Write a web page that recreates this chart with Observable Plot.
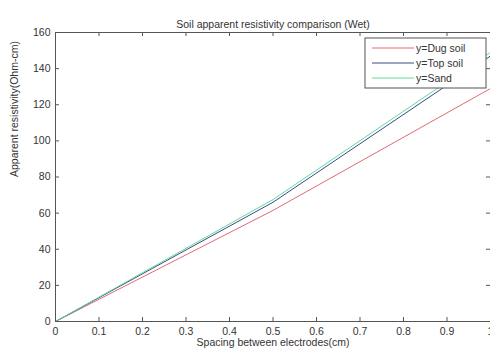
<!DOCTYPE html>
<html>
<head>
<meta charset="utf-8">
<script src="https://cdn.jsdelivr.net/npm/d3@7"></script>
<script src="https://cdn.jsdelivr.net/npm/@observablehq/plot@0.6"></script>
<style>
  body { margin: 0; background: #fff; }
  #chart { position: relative; width: 490px; height: 351px; overflow: hidden; }
  svg { font-family: "Liberation Sans", Arial, sans-serif; }
</style>
</head>
<body>
<div id="chart"></div>
<script>
const spacing = [0, 0.5, 1];
const dugSoil = [0, 61.5, 129];
const topSoil = [0, 66, 147];
const sand = [0, 67.5, 149];
const seriesNames = ["y=Dug soil", "y=Top soil", "y=Sand"];
const seriesColors = ["#e26a74", "#3c4a86", "#62d99a"];
const xTicks = [0, 0.1, 0.2, 0.3, 0.4, 0.5, 0.6, 0.7, 0.8, 0.9, 1];
const yTicks = [0, 20, 40, 60, 80, 100, 120, 140, 160];

const seriesValues = [dugSoil, topSoil, sand];
const rows = seriesValues.flatMap((vals, i) =>
  spacing.map((s, j) => ({x: s, y: vals[j], series: seriesNames[i]})));

const W = 490, H = 351;
const mL = 55, mR = 0, mT = 32, mB = 30;
const plotH = H - mT - mB, plotW = W - mL - mR;
const tickLen = 4;
const textColor = "#333";

function legendMark() {
  return (index, scales, values, dims, context) => {
    const g = d3.create("svg:g");
    const bx = 365, by = 38, bw = 121, bh = 50;
    g.append("rect").attr("x", bx).attr("y", by).attr("width", bw).attr("height", bh)
      .attr("fill", "#fff").attr("stroke", "#555").attr("stroke-width", 1);
    seriesNames.forEach((name, i) => {
      const yy = by + 10 + i * 15;
      g.append("line").attr("x1", bx + 7).attr("x2", bx + 49).attr("y1", yy).attr("y2", yy)
        .attr("stroke", seriesColors[i]).attr("stroke-width", 1);
      g.append("text").attr("x", bx + 51).attr("y", yy).attr("dy", "0.35em")
        .attr("text-anchor", "start")
        .attr("font-size", 10.5).attr("fill", textColor).text(name);
    });
    return g.node();
  };
}

const chart = Plot.plot({
  width: W, height: H,
  marginLeft: mL, marginRight: mR, marginTop: mT, marginBottom: mB,
  style: {fontFamily: '"Liberation Sans", Arial, sans-serif', fontSize: "10.5px", color: textColor, background: "#fff"},
  x: {domain: [0, 1], ticks: xTicks, tickFormat: d => String(d)},
  y: {domain: [0, 160], ticks: yTicks},
  color: {domain: seriesNames, range: seriesColors},
  marks: [
    Plot.line(rows, {x: "x", y: "y", z: "series", stroke: "series", strokeWidth: 1}),
    Plot.frame({stroke: "#555", strokeWidth: 1}),
    // inward ticks, bottom & top
    Plot.tickX(xTicks, {x: d => d, insetTop: plotH - tickLen, stroke: "#555"}),
    Plot.tickX(xTicks, {x: d => d, insetBottom: plotH - tickLen, stroke: "#555"}),
    // inward ticks, left & right
    Plot.tickY(yTicks, {y: d => d, insetRight: plotW - tickLen, stroke: "#555"}),
    Plot.tickY(yTicks, {y: d => d, insetLeft: plotW - tickLen, stroke: "#555"}),
    Plot.axisX({ticks: xTicks, tickSize: 0, tickPadding: 6, label: null, tickFormat: d => String(d), fill: textColor}),
    Plot.axisY({ticks: yTicks, tickSize: 0, tickPadding: 5, label: null, fill: textColor}),
    Plot.text(["Spacing between electrodes(cm)"], {text: d => d, frameAnchor: "bottom", dy: 24, fontSize: 10.5, fill: textColor}),
    Plot.text(["Apparent resistivity(Ohm-cm)"], {text: d => d, frameAnchor: "left", dx: -41, rotate: -90, fontSize: 10.5, fill: textColor}),
    Plot.text(["Soil apparent resistivity comparison (Wet)"], {text: d => d, frameAnchor: "top", dy: -12, fontSize: 10.5, fill: textColor}),
    legendMark()
  ]
});
document.getElementById("chart").appendChild(chart);
</script>
</body>
</html>
